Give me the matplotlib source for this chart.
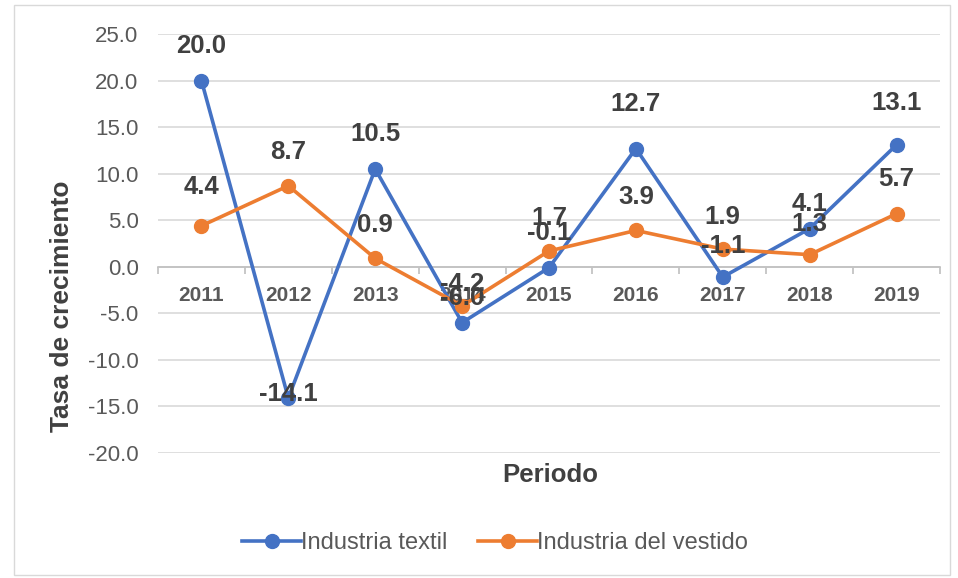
import matplotlib.pyplot as plt
from matplotlib.patches import Rectangle

plt.rcParams['font.family'] = ['Liberation Sans', 'DejaVu Sans']

years = ['2011', '2012', '2013', '2014', '2015', '2016', '2017', '2018', '2019']
textil = [20.0, -14.1, 10.5, -6.0, -0.1, 12.7, -1.1, 4.1, 13.1]
vestido = [4.4, 8.7, 0.9, -4.2, 1.7, 3.9, 1.9, 1.3, 5.7]

# label offsets in points (above the marker, a few nudged like the original)
textil_off = [25, 3, 25, 18, 25, 32, 22, 18, 30]
vestido_off = [28, 24, 24, 16, 24, 24, 23, 22, 25]

blue = '#4472C4'
orange = '#ED7D31'
txt = '#404040'
gray = '#595959'

fig = plt.figure(figsize=(9.58, 5.78), dpi=100)
fig.patches.append(Rectangle((14 / 958, 3 / 578), 936 / 958, 570 / 578, transform=fig.transFigure,
                             fill=False, edgecolor='#D9D9D9', linewidth=1))
ax = fig.add_axes([158 / 958, 125 / 578, 782 / 958, 419 / 578])

x = list(range(len(years)))
ax.plot(x, textil, '-o', color=blue, lw=2.6, ms=10, label='Industria textil', zorder=3)
ax.plot(x, vestido, '-o', color=orange, lw=2.6, ms=10, label='Industria del vestido', zorder=3)

for vals, offs in [(textil, textil_off), (vestido, vestido_off)]:
    for xi, v, o in zip(x, vals, offs):
        ax.annotate(f'{v:.1f}', (xi, v), xytext=(0, o), textcoords='offset points',
                    ha='center', va='center', fontsize=18.5, fontweight='bold', color=txt, zorder=4)

ax.set_xlim(-0.5, len(years) - 0.5)
ax.set_ylim(-20, 25)
ax.set_yticks(range(-20, 30, 5))
ax.set_yticklabels([f'{v:.1f}' for v in range(-20, 30, 5)], fontsize=16, color=gray)
ax.grid(axis='y', color='#D9D9D9', linewidth=1.2)
ax.set_axisbelow(True)

for s in ['top', 'right', 'left']:
    ax.spines[s].set_visible(False)
ax.spines['bottom'].set_position(('data', 0))
ax.spines['bottom'].set_color('#BFBFBF')
ax.spines['bottom'].set_linewidth(1.2)

ax.set_xticks(x)
ax.set_xticklabels(years, fontsize=15, fontweight='bold', color=gray)
ax.set_xticks([i + 0.5 for i in range(-1, len(years))], minor=True)
ax.tick_params(axis='x', which='major', length=0, pad=14)
ax.tick_params(axis='x', which='minor', length=5, color='#BFBFBF', width=1.2)
ax.tick_params(axis='y', length=0, pad=14)

fig.text(62 / 958, 1 - 306 / 578, 'Tasa de crecimiento', ha='center', va='center', rotation=90,
         fontsize=19, fontweight='bold', color=txt)
fig.text(550 / 958, 1 - 475 / 578, 'Periodo', ha='center', va='center',
         fontsize=18.5, fontweight='bold', color=txt)

fig.legend(loc='center', bbox_to_anchor=(495 / 958, 1 - 543 / 578), ncol=2, frameon=False,
           fontsize=17, labelcolor=gray, handlelength=2.5, handletextpad=0.0, columnspacing=1.3)

plt.savefig('out.png', dpi=100)
plt.close()
